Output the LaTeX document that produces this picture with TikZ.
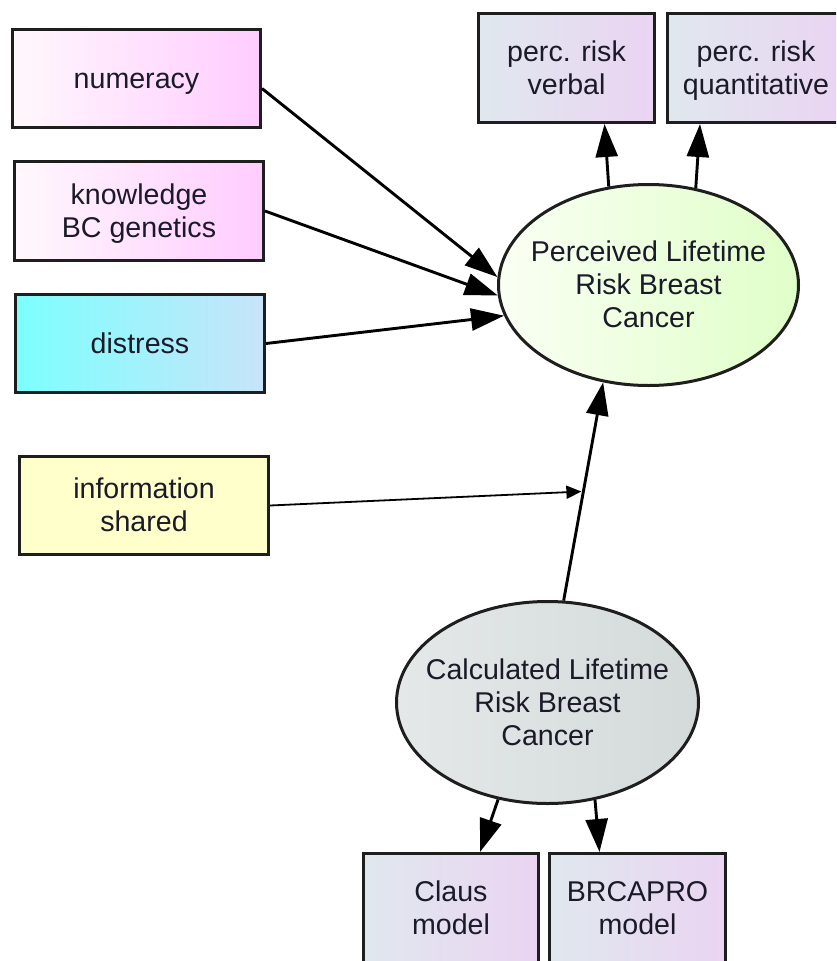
\documentclass[tikz,border=0pt]{standalone}
\usepackage{fontspec}
\setmainfont{Liberation Sans}
\usetikzlibrary{arrows.meta,shapes.geometric,calc}

\definecolor{boxline}{HTML}{1E1E1E}
\definecolor{labeltext}{HTML}{1A1A28}
\definecolor{pinkL}{HTML}{FFF8FC}
\definecolor{pinkR}{HTML}{FFCCFF}
\definecolor{cyanL}{HTML}{7CFFFF}
\definecolor{cyanR}{HTML}{C8E4F8}
\definecolor{yellowF}{HTML}{FFFFCC}
\definecolor{lilacL}{HTML}{E0E8EE}
\definecolor{lilacR}{HTML}{EAD4F2}
\definecolor{greenL}{HTML}{FAFFF4}
\definecolor{greenR}{HTML}{E0FFC8}
\definecolor{greyL}{HTML}{E4E8E8}
\definecolor{greyR}{HTML}{D4DADA}

\newcommand{\diagfont}{\fontsize{28.6pt}{33pt}\selectfont}
% invisible strut giving each text line a fixed 33pt line box
\newcommand{\ls}{\vrule width 0pt height 26.4pt depth 6.6pt\relax}

\tikzset{
  basebox/.style={rectangle, draw=boxline, line width=3pt, inner sep=0pt,
    align=center, font=\diagfont, text=labeltext},
  pinkbox/.style={basebox, left color=pinkL, right color=pinkR},
  cyanbox/.style={basebox, left color=cyanL, right color=cyanR},
  yellowbox/.style={basebox, fill=yellowF},
  lilacbox/.style={basebox, left color=lilacL, right color=lilacR},
  latent/.style={ellipse, draw=boxline, line width=3pt, inner sep=0pt},
  latentlabel/.style={inner sep=0pt, align=center, font=\diagfont, text=labeltext},
  conn/.style={draw=black, line width=2.9pt, -{Triangle[length=33pt,width=22pt]}},
  thinconn/.style={draw=black, line width=1.8pt, -{Triangle[length=15pt,width=13pt]}}
}

\begin{document}
\begin{tikzpicture}[x=1pt,y=-1pt]
\useasboundingbox (0,0) rectangle (836,961);
\clip (0,0) rectangle (836,961);

% predictor boxes on the left
\node[pinkbox, minimum width=248pt, minimum height=98pt] (num) at (136.5,78.5) {\ls numeracy};
\node[pinkbox, minimum width=249pt, minimum height=99pt] (know) at (139,211) {\ls knowledge\\\ls BC genetics};
\node[cyanbox, minimum width=249pt, minimum height=98pt] (dist) at (140,343.5) {\ls distress};
\node[yellowbox, minimum width=249pt, minimum height=98pt] (info) at (144,505.5) {\ls information\\\ls shared};

% indicator boxes
\node[lilacbox, minimum width=176pt, minimum height=109pt] (verbal) at (566.5,68) {\ls perc. risk\\\ls verbal};
\node[lilacbox, minimum width=178pt, minimum height=109pt] (quant) at (756,68) {\ls perc. risk\\\ls quantitative};
\node[lilacbox, minimum width=175pt, minimum height=109pt] (claus) at (451,908) {\ls Claus\\\ls model};
\node[lilacbox, minimum width=176pt, minimum height=109pt] (brca) at (637.5,908) {\ls BRCAPRO\\\ls model};

% latent variables
\node[latent, left color=greenL, right color=greenR, minimum width=300pt, minimum height=201pt]
  (perc) at (648.5,285) {};
\node[latentlabel] (perctext) at (perc.center) {\ls Perceived Lifetime\\\ls Risk Breast\\\ls Cancer};
\node[latent, left color=greyL, right color=greyR, minimum width=302pt, minimum height=202pt]
  (calc) at (547.5,702.5) {};
\node[latentlabel] (calctext) at (calc.center) {\ls Calculated Lifetime\\\ls Risk Breast\\\ls Cancer};

% paths
\draw[conn] ($(num.east)+(0,10)$) -- (perc.177);
\draw[conn] (know.east) -- (perc.184);
\draw[conn] (dist.east) -- (perc.192);
\draw[conn] (calc.81) -- (perc.245);
\draw[conn] (perc.112) -- ($(verbal.south)+(38,0)$);
\draw[conn] (perc.64) -- ($(quant.south)+(-56,0)$);
\draw[conn] (calc.243) -- ($(claus.north)+(29,0)$);
\draw[conn] (calc.296) -- ($(brca.north)+(-38,0)$);

% moderation arrow onto the calculated -> perceived path
\coordinate (mid) at ($(calc.81)!0.5!(perc.245)$);
\draw[thinconn, shorten >=2pt] (info.east) -- (mid);
\end{tikzpicture}
\end{document}
